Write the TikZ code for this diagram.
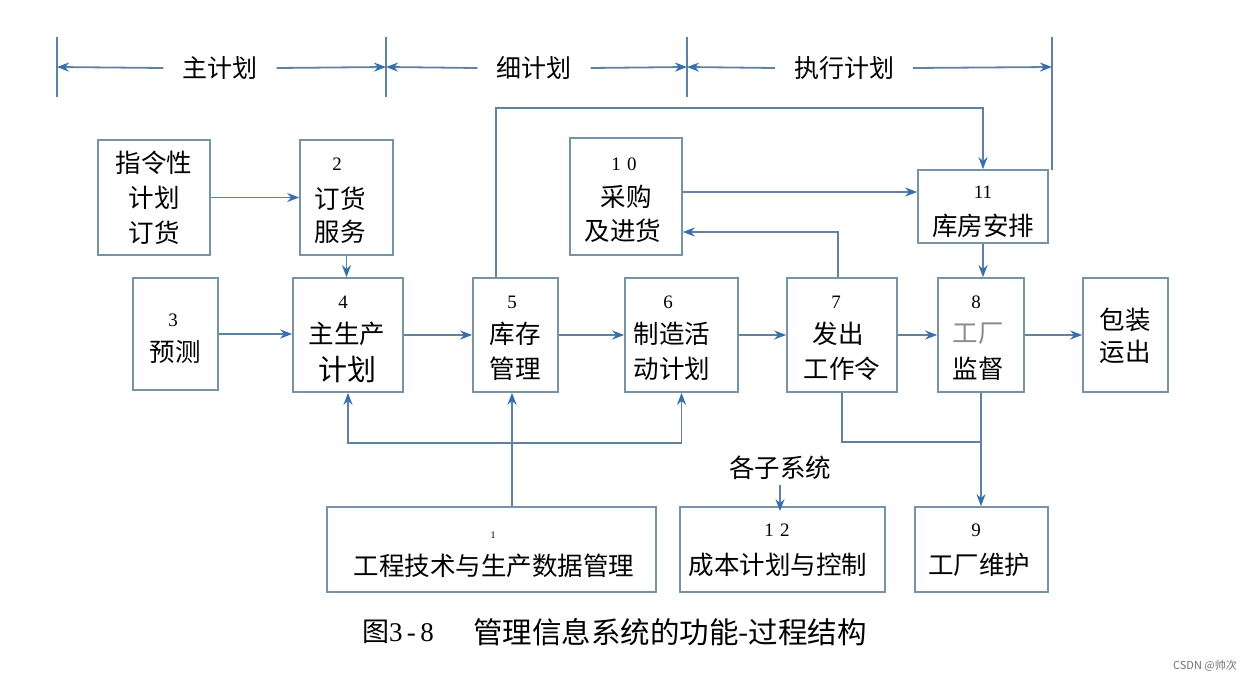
\documentclass[tikz,border=0pt]{standalone}
\usepackage{fontspec}
\setmainfont{Liberation Serif}
\newfontfamily\cjk{Noto Sans CJK SC}
\usetikzlibrary{arrows.meta}
\definecolor{boxc}{RGB}{118,148,168}
\definecolor{linec}{RGB}{95,130,160}
\definecolor{tipc}{RGB}{55,110,175}
\tikzset{
  box/.style={draw=boxc, line width=1.7pt, inner sep=0pt},
  txt/.style={font=\cjk\fontsize{25.5}{30}\selectfont, inner sep=0pt},
  num/.style={font=\fontsize{19}{22}\selectfont, inner sep=0pt},
  hdr/.style={font=\cjk\fontsize{25}{30}\selectfont, inner ysep=0pt, inner xsep=19pt},
  conn/.style={draw=linec, line width=1.8pt},
  arr/.style={conn, -{Stealth[length=12pt,width=9pt,color=tipc]}},
  tick/.style={draw=linec, line width=1.6pt}
}
\begin{document}
\begin{tikzpicture}[x=1pt,y=-1pt]
\useasboundingbox (0,0) rectangle (1258,682);
\fill[white] (0,0) rectangle (1258,682);

% ---------- header ----------
\coordinate (tk1) at (57,67);
\coordinate (tk2) at (386,67);
\coordinate (tk3) at (687,67);
\coordinate (tk4) at (1052,67);
\draw[tick] (57,37) -- (57,97);
\draw[tick] (386,37) -- (386,97);
\draw[tick] (687,37) -- (687,97);
\draw[tick] (1052,37) -- (1052,170);
\node[hdr] (hd1) at (220,68) {主计划};
\node[hdr] (hd2) at (534,68) {细计划};
\node[hdr] (hd3) at (844,68) {执行计划};
\draw[arr] (hd1.west) -- (tk1);
\draw[arr] (hd1.east) -- (tk2);
\draw[arr] (hd2.west) -- (tk2);
\draw[arr] (hd2.east) -- (tk3);
\draw[arr] (hd3.west) -- (tk3);
\draw[arr] (hd3.east) -- (tk4);

% ---------- boxes ----------
\node[box, minimum width=112pt, minimum height=115pt] (n0) at (154,197.5) {};
\node[box, minimum width=93pt,  minimum height=115pt] (n2) at (346.5,197.5) {};
\node[box, minimum width=85pt,  minimum height=112pt] (n3) at (175.5,334) {};
\node[box, minimum width=110pt, minimum height=114pt] (n4) at (348,335) {};
\node[box, minimum width=85pt,  minimum height=114pt] (n5) at (515.5,335) {};
\node[box, minimum width=113pt, minimum height=114pt] (n6) at (681.5,335) {};
\node[box, minimum width=110pt, minimum height=114pt] (n7) at (842,335) {};
\node[box, minimum width=86pt,  minimum height=114pt] (n8) at (981,335) {};
\node[box, minimum width=85pt,  minimum height=114pt] (nB) at (1125.5,335) {};
\node[box, minimum width=112pt, minimum height=117pt] (n10) at (626,196.5) {};
\node[box, minimum width=130pt, minimum height=73pt]  (n11) at (983,206.5) {};
\node[box, minimum width=329pt, minimum height=85pt]  (n1) at (491.5,549.5) {};
\node[box, minimum width=205pt, minimum height=85pt]  (n12) at (782.5,549.5) {};
\node[box, minimum width=133pt, minimum height=85pt]  (n9) at (981.5,549.5) {};

% ---------- box texts ----------
\node[txt] (t0a) at (154,163) {指令性};
\node[txt] (t0b) at (154,198) {计划};
\node[txt] (t0c) at (154,233) {订货};

\node[num] (t2n) at (337,164) {2};
\node[txt] (t2a) at (340,199) {订货};
\node[txt] (t2b) at (340,232) {服务};

\node[num] (t3n) at (173,320) {3};
\node[txt] (t3a) at (175,352) {预测};

\node[num] (t4n) at (343,302) {4};
\node[txt] (t4a) at (347,334) {主生产};
\node[txt, font=\cjk\fontsize{29}{32}\selectfont] (t4b) at (347,369) {计划};

\node[num] (t5n) at (512,302) {5};
\node[txt] (t5a) at (515,334) {库存};
\node[txt] (t5b) at (515,369) {管理};

\node[num] (t6n) at (668,302) {6};
\node[txt] (t6a) at (672,334) {制造活};
\node[txt] (t6b) at (672,369) {动计划};

\node[num] (t7n) at (836,302) {7};
\node[txt] (t7a) at (838,334) {发出};
\node[txt] (t7b) at (842,369) {工作令};

\node[num] (t8n) at (976,302) {8};
\node[txt, text=black!45] (t8a) at (978,334) {工厂};
\node[txt] (t8b) at (978,369) {监督};

\node[txt] (tBa) at (1125,320) {包装};
\node[txt] (tBb) at (1125,352) {运出};

\node[num] (t10n) at (624,164) {1\,\,0};
\node[txt] (t10a) at (626,197) {采购};
\node[txt] (t10b) at (623,231) {及进货};

\node[num] (t11n) at (983,192) {11};
\node[txt] (t11a) at (983,226) {库房安排};

\node[num, font=\fontsize{10}{12}\selectfont] (t1n) at (493,535) {1};
\node[txt] (t1a) at (494,566) {工程技术与生产数据管理};

\node[num] (t12n) at (777,530) {1\,\,2};
\node[txt] (t12a) at (778,565) {成本计划与控制};

\node[num] (t9n) at (976,530) {9};
\node[txt] (t9a) at (979,565) {工厂维护};

% ---------- connectors ----------
\draw[arr] (n0) -- (n2);
\draw[arr] (n2.south) -- (n2.south |- n4.north);
\draw[arr] (n3.east) -- (n3.east -| n4.west);
\draw[arr] (n4) -- (n5);
\draw[arr] (n5) -- (n6);
\draw[arr] (n6) -- (n7);
\draw[arr] (n7) -- (n8);
\draw[arr] (n8) -- (nB);

\coordinate (top5) at (496,108);
\draw[arr] (n5.north -| top5) -- (top5) -| (n11.north);
\draw[arr] ([yshift=4.5pt]n10.east) -- ([yshift=4.5pt]n10.east -| n11.west);
\draw[arr] ([xshift=-4pt]n7.north) |- ([yshift=-35.5pt]n10.east);
\draw[arr] (n11.south) -- (n11.south |- n8.north);

\coordinate (j1) at (512,443);
\draw[arr] (n1.north -| j1) -- (n5.south -| j1);
\draw[arr] (j1) -| (n4.south);
\draw[arr] (j1) -| (n6.south);

\coordinate (k1) at (981,442);
\draw[conn] (n7.south) |- (k1);
\draw[arr] (n8.south) -- (n8.south |- n9.north);

\node[txt] (sub) at (780,468) {各子系统};
\draw[arr] ([yshift=-5pt]sub.south) -- ([yshift=-5pt]sub.south |- n12.north);

% ---------- caption ----------
\node[txt, font=\cjk\fontsize{27}{30}\selectfont] (cap1) at (398,632) {图\fontspec{Liberation Serif}3\,-\,8};
\node[txt, font=\cjk\fontsize{29.5}{30}\selectfont] (cap2) at (670,632) {管理信息系统的功能-过程结构};

\node[font=\cjk\fontsize{11}{12}\selectfont, text=black!55, inner sep=0pt] (wm) at (1205,666) {CSDN @帅次};
\end{tikzpicture}
\end{document}
